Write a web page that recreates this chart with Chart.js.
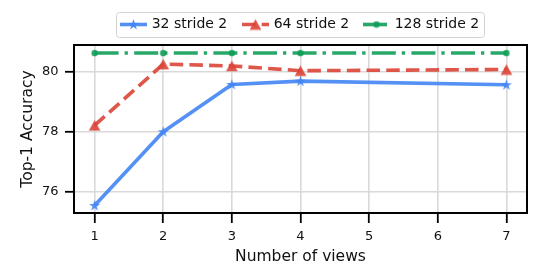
<!DOCTYPE html>
<html><head><meta charset="utf-8">
<script src="https://cdn.jsdelivr.net/npm/chart.js@4"></script>
<style>html,body{margin:0;padding:0;background:#fff}canvas{display:block}</style>
</head><body><canvas id="c" width="550" height="267"></canvas>
<script>
// ---- data ----
const views = [1, 2, 3, 4, 7];
const acc32 = [75.53, 78.0, 79.58, 79.69, 79.57];
const acc64 = [78.21, 80.26, 80.2, 80.04, 80.08];
const acc128 = [80.63, 80.63, 80.63, 80.63, 80.63];
const seriesLabels = ['32 stride 2', '64 stride 2', '128 stride 2'];
const xTicks = [1, 2, 3, 4, 5, 6, 7];
const yTicks = [76, 78, 80];
const xTitle = 'Number of views';
const yTitle = 'Top-1 Accuracy';

// ---- styles ----
const FONT = "'DejaVu Sans', 'Liberation Sans', sans-serif";
const BLUE = 'rgba(66,133,244,0.9)';
const RED = 'rgba(219,68,55,0.9)';
const GREEN = 'rgba(15,157,88,0.9)';

function mk(w, h, draw) { const c = document.createElement('canvas'); c.width = w; c.height = h; draw(c.getContext('2d')); return c; }
const starImg = mk(13, 13, g => {
  g.fillStyle = BLUE; g.beginPath();
  const cx = 6.5, cy = 6.8, R = 5.8, r = R * 0.382;
  for (let i = 0; i < 10; i++) {
    const a = -Math.PI / 2 + i * Math.PI / 5, rr = i % 2 ? r : R;
    const px = cx + rr * Math.cos(a), py = cy + rr * Math.sin(a);
    i ? g.lineTo(px, py) : g.moveTo(px, py);
  }
  g.closePath(); g.fill();
});
const triImg = mk(13, 12, g => {
  g.fillStyle = RED; g.beginPath();
  g.moveTo(6.5, 0.8); g.lineTo(12.3, 11.2); g.lineTo(0.7, 11.2); g.closePath(); g.fill();
});
const dotImg = mk(8, 8, g => {
  g.fillStyle = GREEN; g.beginPath(); g.arc(4, 4, 3.2, 0, Math.PI * 2); g.fill();
});

function pts(ys) { return views.map((v, i) => ({ x: v, y: ys[i] })); }

const legendX = [120, 242, 363];
const legendPlugin = {
  id: 'boxLegend',
  afterDraw(chart) {
    const ctx = chart.ctx;
    ctx.save();
    ctx.setLineDash([]);
    ctx.beginPath();
    ctx.roundRect(116.5, 12.5, 368, 25, 3);
    ctx.fillStyle = '#fff'; ctx.fill();
    ctx.strokeStyle = '#d2d2d2'; ctx.lineWidth = 1; ctx.stroke();
    const y = 24.5;
    chart.data.datasets.forEach((ds, i) => {
      const x0 = legendX[i];
      ctx.strokeStyle = ds.borderColor; ctx.lineWidth = ds.borderWidth;
      ctx.lineCap = 'butt';
      ctx.setLineDash(ds.borderDash || []);
      ctx.beginPath(); ctx.moveTo(x0, y); ctx.lineTo(x0 + 27, y); ctx.stroke();
      ctx.setLineDash([]);
      const im = ds.pointStyle;
      ctx.drawImage(im, x0 + 13.5 - im.width / 2, y - im.height / 2);
      ctx.fillStyle = '#111';
      ctx.font = '14px ' + FONT;
      ctx.textBaseline = 'middle'; ctx.textAlign = 'left';
      ctx.fillText(ds.label, x0 + 31.7, y);
    });
    ctx.restore();
  }
};
const framePlugin = {
  id: 'frame',
  afterDatasetsDraw(chart) {
    const a = chart.chartArea, ctx = chart.ctx;
    ctx.save(); ctx.setLineDash([]);
    ctx.strokeStyle = '#000'; ctx.lineWidth = 2;
    ctx.strokeRect(a.left, a.top, a.right - a.left, a.bottom - a.top);
    ctx.restore();
  }
};

const GRID = '#d9d9d9';
new Chart(document.getElementById('c'), {
  type: 'line',
  data: {
    datasets: [
      { label: seriesLabels[0], data: pts(acc32), borderColor: BLUE, borderWidth: 3.6, pointStyle: starImg, pointRadius: 5, borderJoinStyle: 'round', order: 3 },
      { label: seriesLabels[1], data: pts(acc64), borderColor: RED, borderWidth: 3.6, borderDash: [13.5, 6.2], borderCapStyle: 'butt', pointStyle: triImg, pointRadius: 5, order: 2 },
      { label: seriesLabels[2], data: pts(acc128), borderColor: GREEN, borderWidth: 3.6, borderDash: [24, 6, 3.3, 6.3], borderCapStyle: 'butt', pointStyle: dotImg, pointRadius: 4, order: 1 }
    ]
  },
  options: {
    responsive: false,
    animation: false,
    devicePixelRatio: 1,
    layout: { padding: { top: 45, right: 23, left: 0, bottom: 0 } },
    plugins: { legend: { display: false }, tooltip: { enabled: false } },
    elements: { line: { tension: 0, fill: false } },
    scales: {
      x: {
        type: 'linear', min: 0.7, max: 7.3,
        afterBuildTicks: s => { s.ticks = xTicks.map(v => ({ value: v })); },
        afterFit: s => { s.height = 54; },
        grid: { color: GRID, lineWidth: 1.6, tickColor: '#000', tickWidth: 1.8, tickLength: 10 },
        border: { display: false },
        ticks: { font: { family: FONT, size: 13 }, color: '#111', padding: 6, maxRotation: 0, callback: v => String(v) },
        title: { display: true, text: xTitle, font: { family: FONT, size: 15.5 }, color: '#111', padding: { top: 0, bottom: 1 } }
      },
      y: {
        min: 75.28, max: 80.9,
        afterBuildTicks: s => { s.ticks = yTicks.map(v => ({ value: v })); },
        afterFit: s => { s.width = 74; },
        grid: { color: GRID, lineWidth: 1.6, tickColor: '#000', tickWidth: 1.8, tickLength: 9 },
        border: { display: false },
        ticks: { font: { family: FONT, size: 13 }, color: '#111', padding: 6.5, callback: v => String(v) },
        title: { display: true, text: yTitle, font: { family: FONT, size: 15.5 }, color: '#111', padding: { top: 19, bottom: 0 } }
      }
    }
  },
  plugins: [legendPlugin, framePlugin]
});
</script>
</body></html>
